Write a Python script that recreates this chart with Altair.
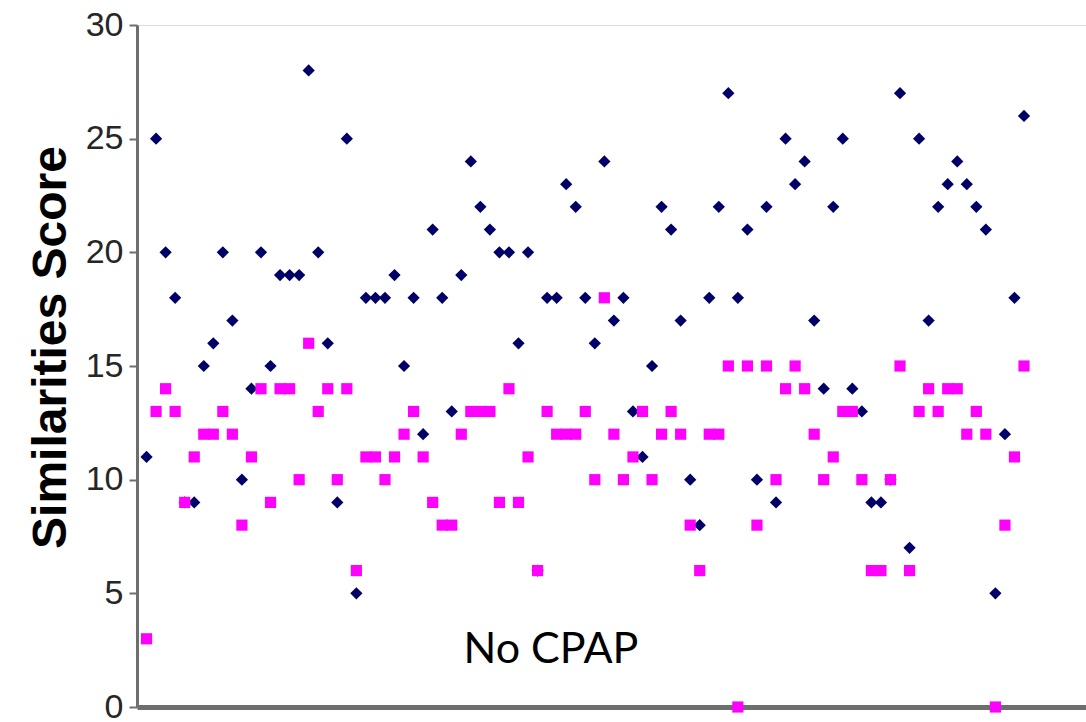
import altair as alt
import pandas as pd

# ---- data ----
subject = list(range(1, 94))
navy_scores = [11, 25, 20, 18, 9, 9, 15, 16, 20, 17, 10, 14, 20, 15, 19, 19, 19, 28, 20, 16,
               9, 25, 5, 18, 18, 18, 19, 15, 18, 12, 21, 18, 13, 19, 24, 22, 21, 20, 20, 16,
               20, 6, 18, 18, 23, 22, 18, 16, 24, 17, 18, 13, 11, 15, 22, 21, 17, 10, 8, 18,
               22, 27, 18, 21, 10, 22, 9, 25, 23, 24, 17, 14, 22, 25, 14, 13, 9, 9, 10, 27,
               7, 25, 17, 22, 23, 24, 23, 22, 21, 5, 12, 18, 26]
magenta_scores = [3, 13, 14, 13, 9, 11, 12, 12, 13, 12, 8, 11, 14, 9, 14, 14, 10, 16, 13, 14,
                  10, 14, 6, 11, 11, 10, 11, 12, 13, 11, 9, 8, 8, 12, 13, 13, 13, 9, 14, 9,
                  11, 6, 13, 12, 12, 12, 13, 10, 18, 12, 10, 11, 13, 10, 12, 13, 12, 8, 6, 12,
                  12, 15, 0, 15, 8, 15, 10, 14, 15, 14, 12, 10, 11, 13, 13, 10, 6, 6, 10, 15,
                  6, 13, 14, 13, 14, 14, 12, 13, 12, 0, 8, 11, 15]
y_ticks = [0, 5, 10, 15, 20, 25, 30]
note_text = ["No CPAP"]

navy_df = pd.DataFrame({"subject": subject, "score": navy_scores})
magenta_df = pd.DataFrame({"subject": subject, "score": magenta_scores})
note_df = pd.DataFrame({"label": note_text})

x_enc = alt.X("subject:Q",
              scale=alt.Scale(domain=[0, 99.5], nice=False, zero=False),
              axis=alt.Axis(labels=False, ticks=False, title=None, grid=False,
                            domainColor="#6e6e6e", domainWidth=5))
y_enc = alt.Y("score:Q",
              scale=alt.Scale(domain=[0, 30], nice=False),
              axis=alt.Axis(values=y_ticks, grid=False, tickSize=8, tickColor="#6e6e6e",
                            tickWidth=2, domainColor="#6e6e6e", domainWidth=3,
                            labelFont="Liberation Sans, Arial, sans-serif",
                            labelFontSize=34, labelColor="#262626", labelPadding=6,
                            title="Similarities Score", titleFont="Liberation Sans, Arial, sans-serif",
                            titleFontWeight="bold", titleFontSize=48, titleColor="#000000",
                            titleX=-62, titleY=322, titleAngle=-90))

navy = alt.Chart(navy_df).mark_point(shape="diamond", filled=True, color="#000066",
                                     size=150, opacity=1).encode(x=x_enc, y=y_enc)
magenta = alt.Chart(magenta_df).mark_point(shape="square", filled=True, color="#ff00ff",
                                           size=125, opacity=1).encode(x=x_enc, y=y_enc)
note = alt.Chart(note_df).mark_text(font="Lato, sans-serif",
                                    fontSize=43, color="#000000", align="center",
                                    baseline="middle").encode(
    text="label:N", x=alt.value(414), y=alt.value(625))

chart = alt.layer(navy, magenta, note).properties(
    width=949, height=682,
    autosize=alt.AutoSizeParams(type="none"),
    padding={"left": 137, "top": 25, "right": 0, "bottom": 15},
).configure_view(stroke=None).configure(background="white")

chart.save("out.html", embed_options={"renderer": "svg", "actions": False})
